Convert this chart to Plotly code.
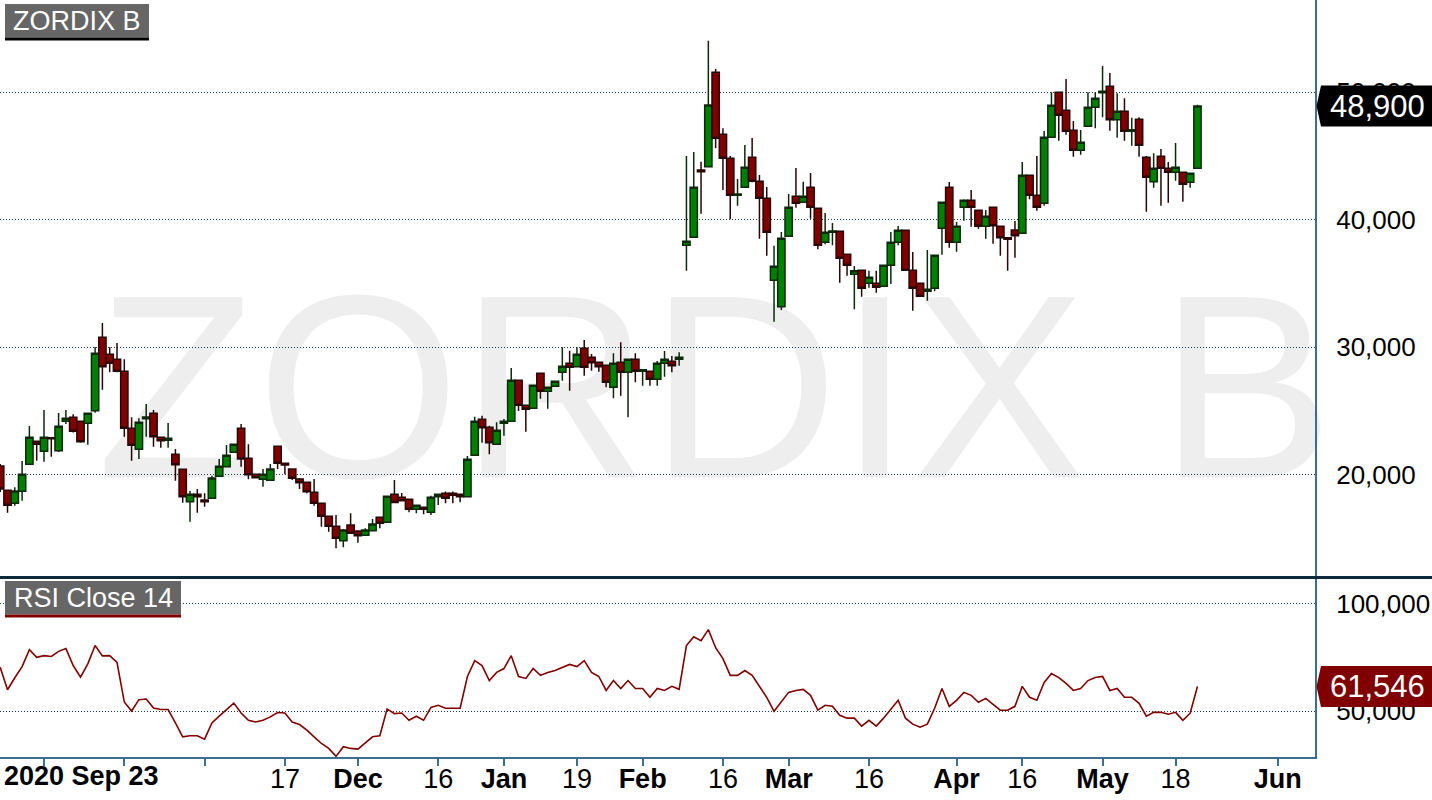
import plotly.graph_objects as go

# ---------------- data ----------------
open_ = [20670, 18760, 17740, 18680, 20800, 22600, 21820, 22890, 21870, 24170,
         24490, 24170, 24020, 25000, 30760, 29430, 29040, 28090, 23620, 21980,
         24380, 24800, 22920, 22680, 21580, 20410, 17870, 18450, 18000, 18130,
         19860, 20610, 21740, 23620, 21270, 20020, 19620, 19550, 22210, 20880,
         20430, 19650, 19390, 18600, 17740, 16720, 15940, 14810, 16040, 15570,
         15230, 15590, 16640, 16250, 18450, 18210, 18060, 17270, 17430, 17030,
         18260, 18530, 18530, 18450, 18260, 21510, 24330, 23700, 22370, 24020,
         24170, 27390, 25430, 25190, 27940, 26530, 26920, 28020, 28720, 28450,
         29900, 29190, 28800, 28560, 26840, 28800, 28020, 29040, 28090, 28090,
         27470, 28720, 28880, 29040, 37980, 38600, 43880, 44140, 51550, 46680,
         44800, 41900, 42530, 44880, 43000, 41660, 35230, 33160, 38680, 41820,
         41350, 42530, 40880, 38210, 39000, 39070, 37270, 35700, 36020, 35000,
         35000, 34760, 36410, 38210, 39150, 36020, 35000, 34370, 34600, 39310,
         42530, 38210, 40960, 41510, 40720, 39470, 40960, 39470, 38570, 39180,
         38920, 43470, 41900, 41270, 46450, 49980, 48560, 47000, 45430, 47310,
         48800, 49950, 50450, 47830, 48490, 46920, 47860, 44880, 42960, 44960,
         44020, 43700, 43700, 42920, 44020]
high = [20820, 18780, 19000, 21060, 23800, 22630, 25060, 22940, 24820, 25060,
        24720, 24200, 24820, 30000, 31880, 29980, 30310, 29040, 24490, 24410,
        25530, 25060, 22940, 24040, 22000, 20430, 18710, 18860, 18530, 19910,
        21220, 22310, 22390, 23960, 22370, 20040, 20430, 20820, 22220, 20900,
        20440, 19730, 19410, 19650, 17760, 16740, 16820, 15730, 16960, 15580,
        15780, 16510, 16650, 18300, 19570, 18550, 18070, 17600, 17440, 18330,
        18470, 18660, 18660, 18470, 21450, 24530, 24610, 23830, 24090, 24350,
        28350, 27400, 25440, 27020, 27960, 26860, 27330, 29980, 29710, 29980,
        30550, 29450, 28820, 28590, 29510, 30370, 29060, 29510, 28230, 28100,
        28900, 29690, 29290, 29580, 44980, 45290, 44530, 54020, 51800, 47150,
        44980, 43180, 45840, 46390, 43490, 42550, 37950, 39020, 42000, 44040,
        42960, 43650, 40900, 40510, 39730, 39100, 37290, 36350, 36040, 35980,
        35980, 36430, 39020, 39490, 39180, 37450, 35020, 37610, 37210, 41370,
        42940, 39800, 41580, 42310, 40750, 40750, 40980, 39490, 38630, 39880,
        44510, 43490, 44980, 46940, 49980, 50000, 51020, 47730, 47020, 49980,
        49980, 52040, 51490, 49900, 49510, 47980, 48020, 44980, 45190, 45530,
        44510, 46000, 43730, 43670, 49000]
low = [18630, 17000, 17550, 17950, 20750, 21080, 21000, 21400, 21760, 23960,
       23300, 22490, 22340, 24850, 26650, 28020, 28020, 22960, 21080, 21220,
       22960, 22180, 22100, 22100, 19510, 17790, 16300, 17000, 17470, 18100,
       19850, 20600, 21720, 20610, 19620, 19730, 19040, 19540, 20430, 20020,
       19570, 18860, 18530, 17550, 15910, 15510, 14210, 14290, 15380, 14650,
       15220, 15580, 15780, 16240, 17800, 17940, 17030, 16960, 16880, 16820,
       17610, 17740, 17740, 17820, 18250, 21500, 22490, 21580, 22360, 23040,
       24160, 24980, 23360, 25180, 25950, 25160, 26910, 27360, 26570, 28440,
       27750, 28140, 28060, 26840, 25980, 26180, 24490, 27230, 26960, 26960,
       26960, 27670, 28020, 28530, 35980, 38590, 40460, 44130, 45580, 42310,
       40020, 41080, 42520, 42920, 38490, 37160, 31980, 32900, 38670, 40930,
       41340, 40060, 37660, 38050, 37980, 35040, 35590, 32960, 33950, 34650,
       34260, 34750, 34940, 37980, 36010, 32850, 33970, 33630, 34370, 37240,
       37790, 37470, 39910, 39440, 39280, 38490, 38100, 37160, 35980, 37000,
       38910, 41580, 40690, 41080, 46440, 46180, 46650, 44930, 45080, 47300,
       47150, 48020, 46960, 46420, 46180, 45790, 44930, 40610, 42490, 41080,
       41320, 43040, 41400, 42490, 44000]
close = [18860, 17580, 18710, 20020, 22920, 22370, 22920, 22810, 23780, 24410,
         23390, 22570, 24800, 29510, 28450, 28720, 28090, 23620, 22290, 24090,
         24510, 22960, 22650, 22840, 20770, 18260, 18450, 18260, 17870, 19730,
         20640, 21510, 22370, 21220, 19980, 19750, 20020, 20430, 20880, 20750,
         19700, 19360, 18650, 17740, 16720, 15940, 15000, 15650, 15390, 15200,
         15650, 16120, 16170, 18290, 17810, 17950, 17270, 17580, 17270, 18210,
         18450, 18140, 18370, 18260, 21190, 24170, 23670, 22490, 23470, 24170,
         27390, 25430, 25110, 27000, 26530, 26840, 27310, 28490, 28410, 29430,
         28410, 28770, 28450, 27230, 28720, 28020, 29040, 28090, 28220, 27470,
         28720, 29040, 28530, 29190, 38290, 42530, 43750, 48980, 46370, 44800,
         41900, 42000, 44090, 43000, 41660, 39000, 36330, 38530, 40960, 41270,
         41820, 40960, 37980, 39000, 39100, 36960, 36410, 35980, 34600, 35470,
         34680, 36410, 38210, 39150, 36020, 34600, 33980, 34530, 37190, 41350,
         38210, 39470, 41510, 40960, 39470, 40250, 39510, 38570, 38450, 38730,
         43470, 41900, 40960, 46450, 48960, 48170, 46920, 45430, 46050, 48800,
         49510, 50050, 47830, 48490, 46920, 47040, 45820, 43310, 44020, 44020,
         43700, 44090, 42760, 43620, 48900]
rsi = [70500, 60000, 65600, 70800, 78700, 75100, 75900, 75500, 77900, 79200,
       71300, 65900, 72100, 80600, 75800, 75900, 72800, 54300, 50100, 55400,
       55700, 51500, 50800, 50800, 44600, 38100, 38600, 38600, 37000, 44600,
       47700, 50800, 53800, 49200, 45800, 45000, 45800, 47400, 49400, 49200,
       45000, 43800, 41200, 38100, 35000, 32700, 29000, 33500, 32700, 32400,
       35300, 38100, 38600, 51100, 48900, 49200, 45800, 47700, 45800, 51800,
       52800, 51400, 51400, 51400, 66200, 73600, 71300, 64300, 68100, 69900,
       75900, 66200, 65300, 69900, 66700, 68100, 69000, 70400, 71800, 70800,
       73600, 68100, 66200, 59700, 64300, 60600, 64300, 60600, 60600, 56500,
       60600, 59700, 61600, 60200, 80600, 84700, 82900, 88000, 79600, 74500,
       66700, 66700, 69000, 66700, 61600, 56500, 50000, 54200, 58800, 59700,
       60200, 57400, 50500, 52800, 52300, 48100, 46800, 46800, 43100, 45800,
       43100, 46800, 50900, 55100, 46800, 44000, 42600, 44000, 51400, 60600,
       52300, 55100, 58800, 57400, 54200, 56000, 53200, 50500, 50500, 52300,
       61600, 56500, 55100, 63400, 67600, 65700, 63000, 59700, 60600, 64300,
       65700, 66200, 59700, 60600, 56500, 56500, 53700, 47700, 49500, 49500,
       48600, 49500, 45800, 49100, 61546]

tick_idx = [6, 17, 28, 39, 49, 60, 69, 79, 88, 99, 108, 119, 131, 140, 151, 161, 175]
tick_text = ["", "", "", "17", "<b>Dec</b>", "16", "<b>Jan</b>", "19", "<b>Feb</b>",
             "16", "<b>Mar</b>", "16", "<b>Apr</b>", "16", "<b>May</b>", "18", "<b>Jun</b>"]
start_label = "2020 Sep 23"
price_ticks = [20000, 30000, 40000, 50000]
rsi_ticks = [50000, 100000]
title_main = "ZORDIX B"
title_rsi = "RSI Close 14"

# ---------------- layout geometry ----------------
W, H = 1315, 757          # plot area in px
SEP = 577                 # price / RSI separator (px from top)
FONT = "Liberation Sans, Arial, sans-serif"
AX = "#3b6f8e"
GRID = "#1b3a4b"

def px(x):
    return x / W

def py(y):
    return 1 - y / H

price_range = [11961, 57216]
rsi_range = [28700, 111600]
x = list(range(len(close)))

fig = go.Figure()
fig.add_trace(go.Candlestick(
    x=x, open=open_, high=high, low=low, close=close,
    increasing=dict(fillcolor="#008000", line=dict(color="#0b2a0b", width=1.5)),
    decreasing=dict(fillcolor="#800000", line=dict(color="#2a0606", width=1.5)),
    whiskerwidth=0, showlegend=False, hoverinfo="skip",
    xaxis="x", yaxis="y"))
fig.add_trace(go.Scatter(
    x=x, y=rsi, mode="lines", line=dict(color="#800000", width=1.6),
    showlegend=False, hoverinfo="skip", xaxis="x", yaxis="y2"))

yfont = dict(family=FONT, size=26, color="#000000")
fig.update_layout(
    width=1432, height=800,
    margin=dict(l=0, r=1432 - W, t=0, b=800 - H, pad=0),
    paper_bgcolor="white", plot_bgcolor="white",
    boxgap=0.0, boxgroupgap=0.0,
    showlegend=False, hovermode=False,
    font=dict(family=FONT, size=27, color="#000000"),
    xaxis=dict(range=[-0.027, 180.1], anchor="y2", showgrid=False, zeroline=False,
               showline=True, linecolor=AX, linewidth=2, automargin=False,
               ticks="outside", ticklen=7, tickwidth=2, tickcolor=AX,
               ticklabelstandoff=-10,
               tickmode="array", tickvals=tick_idx, ticktext=tick_text,
               tickfont=dict(family=FONT, size=27, color="#000000"),
               rangeslider=dict(visible=False), fixedrange=True),
    yaxis=dict(domain=[1 - SEP / H, 1], range=price_range, side="right", anchor="x",
               showline=True, linecolor=AX, linewidth=2, zeroline=False, automargin=False,
               showgrid=True, gridcolor=GRID, gridwidth=1, griddash="1px,2px",
               tickmode="array", tickvals=price_ticks, tickformat=",d",
               ticks="", ticklabelstandoff=14, tickfont=yfont, fixedrange=True),
    yaxis2=dict(domain=[0, 1 - (SEP + 2) / H], range=rsi_range, side="right", anchor="x",
                showline=True, linecolor=AX, linewidth=2, zeroline=False, automargin=False,
                showgrid=True, gridcolor=GRID, gridwidth=1, griddash="1px,2px",
                tickmode="array", tickvals=rsi_ticks, tickformat=",d",
                ticks="", ticklabelstandoff=14, tickfont=yfont, fixedrange=True),
)

shapes = []
annotations = []

# watermark (below the candles)
shapes.append(dict(type="rect", xref="x domain", yref="y domain",
                   x0=120 / W, x1=1310 / W, y0=1 - 462 / SEP, y1=1 - 262 / SEP,
                   line=dict(width=0), fillcolor="rgba(0,0,0,0)", layer="below",
                   label=dict(text=title_main, textposition="middle center",
                              font=dict(family=FONT, size=262, color="#eeeeee"))))

# separator between the two panels
shapes.append(dict(type="line", xref="paper", yref="paper", x0=0, x1=1432 / W,
                   y0=py(SEP + 0.5), y1=py(SEP + 0.5),
                   line=dict(color="#0d2a3a", width=3), layer="above"))

# panel titles
def panel_label(text, x0, x1, y0, y1, under_color):
    shapes.append(dict(type="rect", xref="paper", yref="paper", x0=px(x0), x1=px(x1),
                       y0=py(y1), y1=py(y0), fillcolor="#666666", line=dict(width=0), layer="above"))
    shapes.append(dict(type="rect", xref="paper", yref="paper", x0=px(x0), x1=px(x1),
                       y0=py(y1 + 3), y1=py(y1), fillcolor=under_color, line=dict(width=0), layer="above"))
    annotations.append(dict(text=text, xref="paper", yref="paper", x=px((x0 + x1) / 2),
                            y=py((y0 + y1) / 2), xanchor="center", yanchor="middle",
                            showarrow=False, font=dict(family=FONT, size=27, color="white")))

panel_label(title_main, 5, 149, 4, 37.5, "#000000")
panel_label(title_rsi, 5, 181, 581, 614.5, "#800000")

# last-value tags on the right axis
def value_tag(value, yref, units_per_px, color):
    half = 20.5 * units_per_px
    xt, xc, xr = px(W + 1.5), px(W + 6), px(1432)
    path = (f"M {xt},{value} L {xc},{value + half} L {xr},{value + half} "
            f"L {xr},{value - half} L {xc},{value - half} Z")
    shapes.append(dict(type="path", xref="paper", yref=yref, path=path,
                       fillcolor=color, line=dict(width=0), layer="above"))
    annotations.append(dict(text=f"{value:,}", xref="paper", yref=yref, x=px(1377), y=value,
                            xanchor="center", yanchor="middle", showarrow=False,
                            font=dict(family=FONT, size=31, color="white")))

value_tag(close[-1], "y", (price_range[1] - price_range[0]) / SEP, "#000000")
value_tag(rsi[-1], "y2", (rsi_range[1] - rsi_range[0]) / (H - SEP - 2), "#800000")

# first date label
annotations.append(dict(text=f"<b>{start_label}</b>", xref="paper", yref="paper",
                        x=px(2), y=py(776), xanchor="left", yanchor="middle",
                        showarrow=False, font=dict(family=FONT, size=27, color="#000000")))

fig.update_layout(shapes=shapes, annotations=annotations)
fig.write_html("out.html", config={"displayModeBar": False, "staticPlot": True},
               post_script="document.body.style.margin='0px';")
